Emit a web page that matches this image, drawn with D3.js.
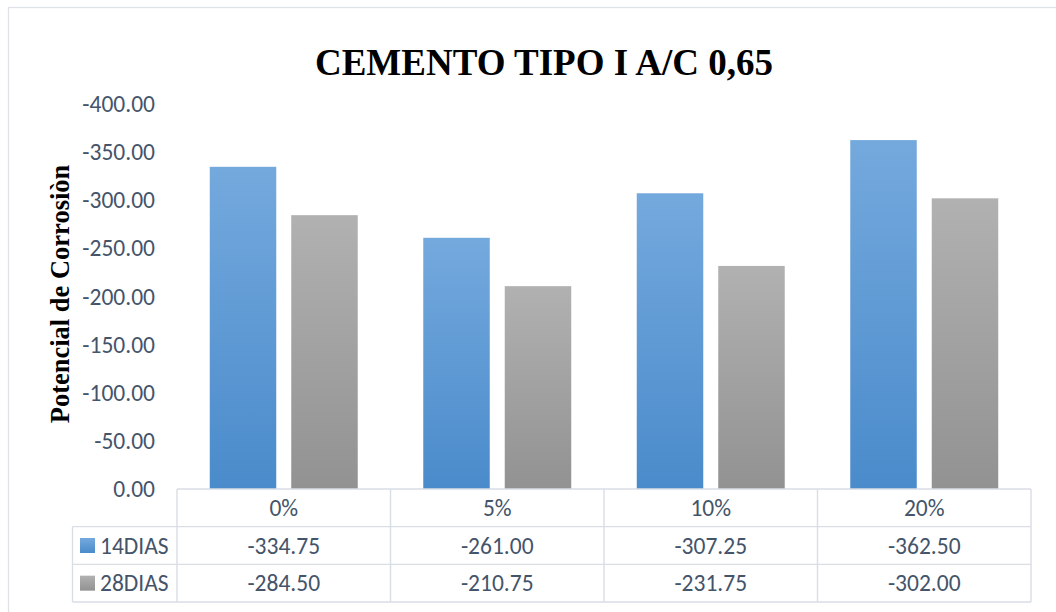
<!DOCTYPE html>
<html>
<head>
<meta charset="utf-8">
<script src="https://cdn.jsdelivr.net/npm/d3@7"></script>
<style>
  html, body { margin: 0; padding: 0; background: #ffffff; }
  svg { display: block; }
</style>
</head>
<body>
<svg id="chart" width="1056" height="612"></svg>
<script>
// Chart data
const categories = ["0%", "5%", "10%", "20%"];
const seriesNames = ["14DIAS", "28DIAS"];
const dias14 = [-334.75, -261.00, -307.25, -362.50];
const dias28 = [-284.50, -210.75, -231.75, -302.00];
const yTicks = [0, -50, -100, -150, -200, -250, -300, -350, -400];

const seriesValues = [dias14, dias28];
// two decimals, plain hyphen as the minus sign
const fmt = d3.formatLocale({ decimal: ".", thousands: ",", grouping: [3], currency: ["", ""], minus: "-" }).format(".2f");

const svg = d3.select("#chart");
const textColor = "#44546a";
const gridColor = "#d9dde4";
const bodyFont = "Calibri, Carlito, Lato, sans-serif";
const bodySize = 23.5;

// Gradients for each series (per bar, light at top, darker at bottom)
const defs = svg.append("defs");
const gradStops = [
  { id: "g14", top: "#74a9dd", bottom: "#4a8bcb" },
  { id: "g28", top: "#b1b1b1", bottom: "#929292" }
];
gradStops.forEach(g => {
  const lg = defs.append("linearGradient")
    .attr("id", g.id).attr("x1", 0).attr("y1", 0).attr("x2", 0).attr("y2", 1);
  lg.append("stop").attr("offset", "0%").attr("stop-color", g.top);
  lg.append("stop").attr("offset", "100%").attr("stop-color", g.bottom);
});

// Outer chart frame
svg.append("rect")
  .attr("x", 8.5).attr("y", 7.5)
  .attr("width", 1100).attr("height", 700)
  .attr("fill", "none").attr("stroke", "#dfe2e8").attr("stroke-width", 1.3);

// Scales
const plotLeft = 177, plotRight = 1031;
const y = d3.scaleLinear().domain([0, -400]).range([489, 104]);
const x = d3.scaleBand().domain(categories).range([plotLeft, plotRight]).padding(0);
const inner = d3.scaleBand().domain(seriesNames)
  .range([0, x.bandwidth()]).paddingInner(0.184).paddingOuter(0.402);

// Title
svg.append("text")
  .attr("x", 544).attr("y", 75)
  .attr("text-anchor", "middle")
  .attr("font-family", "'Liberation Serif', 'Times New Roman', serif")
  .attr("font-weight", "bold")
  .attr("font-size", 37)
  .attr("fill", "#000")
  .text("CEMENTO TIPO I A/C 0,65");

// Y axis title
svg.append("text")
  .attr("transform", "translate(69,294) rotate(-90)")
  .attr("text-anchor", "middle")
  .attr("font-family", "'Liberation Serif', 'Times New Roman', serif")
  .attr("font-weight", "bold")
  .attr("font-size", 26.5)
  .attr("fill", "#000")
  .text("Potencial de Corrosiòn");

// Y axis (labels only)
const yAxis = d3.axisLeft(y).tickValues(yTicks).tickSize(0).tickPadding(0)
  .tickFormat(d => fmt(d));
const yg = svg.append("g").attr("transform", "translate(155,0)").call(yAxis);
yg.select(".domain").remove();
yg.selectAll("text")
  .attr("font-family", bodyFont).attr("font-size", bodySize)
  .attr("fill", textColor);

// Bars
const groups = svg.append("g").selectAll("g")
  .data(categories).join("g")
  .attr("transform", d => `translate(${x(d)},0)`);

groups.selectAll("rect")
  .data((d, i) => seriesNames.map((s, j) => ({ s, j, v: seriesValues[j][i] })))
  .join("rect")
  .attr("x", d => inner(d.s))
  .attr("width", inner.bandwidth())
  .attr("y", d => y(d.v))
  .attr("height", d => y(0) - y(d.v))
  .attr("fill", d => `url(#${gradStops[d.j].id})`);

// Data table below the plot
const tableLeft = 72.5;
const rows = d3.scaleBand().domain(["cat", ...seriesNames]).range([489, 602]);
const grid = svg.append("g")
  .attr("stroke", gridColor).attr("stroke-width", 1.4).attr("fill", "none");

// header row top edge
grid.append("line").attr("x1", plotLeft).attr("x2", plotRight)
  .attr("y1", rows("cat")).attr("y2", rows("cat"));
// horizontal lines for series rows
seriesNames.forEach(s => {
  grid.append("line").attr("x1", tableLeft).attr("x2", plotRight)
    .attr("y1", rows(s)).attr("y2", rows(s));
});
grid.append("line").attr("x1", tableLeft).attr("x2", plotRight)
  .attr("y1", rows.range()[1]).attr("y2", rows.range()[1]);
// vertical lines
[...categories.map(c => x(c)), plotRight].forEach(xv => {
  grid.append("line").attr("x1", xv).attr("x2", xv)
    .attr("y1", rows("cat")).attr("y2", rows.range()[1]);
});
grid.append("line").attr("x1", tableLeft).attr("x2", tableLeft)
  .attr("y1", rows(seriesNames[0])).attr("y2", rows.range()[1]);

const tableText = svg.append("g")
  .attr("font-family", bodyFont).attr("font-size", bodySize)
  .attr("fill", textColor).attr("text-anchor", "middle");

// category labels
categories.forEach(c => {
  tableText.append("text")
    .attr("x", x(c) + x.bandwidth() / 2)
    .attr("y", rows("cat") + rows.bandwidth() / 2)
    .attr("dy", "0.35em")
    .text(c);
});

// series rows
seriesNames.forEach((s, j) => {
  const cy = rows(s) + rows.bandwidth() / 2;
  svg.append("rect")
    .attr("x", 80).attr("y", cy - 7.5)
    .attr("width", 15).attr("height", 15)
    .attr("fill", `url(#${gradStops[j].id})`);
  tableText.append("text")
    .attr("x", 100).attr("y", cy).attr("dy", "0.35em")
    .attr("text-anchor", "start")
    .text(s);
  categories.forEach((c, i) => {
    tableText.append("text")
      .attr("x", x(c) + x.bandwidth() / 2)
      .attr("y", cy).attr("dy", "0.35em")
      .text(fmt(seriesValues[j][i]));
  });
});
</script>
</body>
</html>
